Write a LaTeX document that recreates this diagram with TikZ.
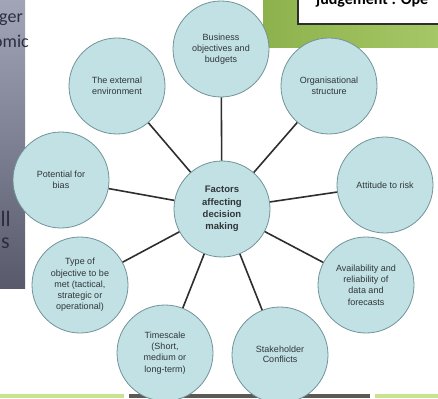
\documentclass[tikz,border=0pt]{standalone}
\usepackage{fontspec}
\setmainfont{Liberation Sans}
\newfontfamily\slidefont{Carlito}
\definecolor{bubblefill}{HTML}{C2E1E4}
\definecolor{bubbleedge}{HTML}{6F9398}
\definecolor{bubbletext}{HTML}{2F3537}
\definecolor{linkcol}{HTML}{2E2E2E}
\definecolor{paneltop}{HTML}{A2A5B8}
\definecolor{panelbot}{HTML}{585A6C}
\definecolor{panelink}{HTML}{2C2D40}
\definecolor{leafgreen}{HTML}{8DB24C}
\definecolor{leaflight}{HTML}{A6C766}
\definecolor{palegreen}{HTML}{C9E48F}
\definecolor{darkbar}{HTML}{5D5953}
\begin{document}
\begin{tikzpicture}[x=1pt,y=-1pt,
  bubble/.style={circle, draw=bubbleedge, line width=0.8pt, fill=bubblefill,
    minimum size=96pt, inner sep=0pt, align=center, text=bubbletext,
    font=\fontsize{9}{11.3}\selectfont},
  hub/.style={bubble, font=\fontsize{9.5}{12.3}\selectfont\bfseries},
  link/.style={draw=linkcol, line width=1.6pt},
  frag/.style={text=panelink, inner sep=0pt, font=\slidefont\fontsize{18}{20}\selectfont},
  fragbig/.style={frag, font=\slidefont\fontsize{22}{24}\selectfont}]
\useasboundingbox (0,0) rectangle (438,398);
\clip (0,0) rectangle (438,398);
% left slide panel
\shade[top color=paneltop, bottom color=panelbot] (0,0) rectangle (25,288);
\node[frag, anchor=base east] (fg1) at (23,23) {ger};
\node[frag, anchor=base east] (fg2) at (29,48) {omic};
\node[fragbig, anchor=base east] (fg3) at (11,226) {ll};
\node[fragbig, anchor=base east] (fg4) at (10,248) {s};
% top right green band with text box
\shade[left color=leafgreen, right color=leaflight] (263,0) rectangle (438,48);
\draw[draw=linkcol, line width=1.5pt, fill=white] (298,-5) rectangle (445,24);
\node[anchor=base west, inner sep=0pt, text=black, font=\slidefont\bfseries\fontsize{16}{18}\selectfont] (judge) at (316,5) {judgement : Ope};
% bottom strip
\fill[palegreen] (0,394) rectangle (124,398);
\fill[darkbar] (129,394) rectangle (370,398);
\fill[palegreen] (375,394) rectangle (438,398);
% bubbles
\node[hub] (C) at (222,209) {Factors\\affecting\\decision\\making};
\node[bubble] (bus) at (221,49) {Business\\objectives and\\budgets};
\node[bubble] (org) at (329,86) {Organisational\\structure};
\node[bubble] (att) at (385,185) {Attitude to risk};
\node[bubble] (avail) at (366,285) {Availability and\\reliability of\\data and\\forecasts};
\node[bubble] (stake) at (280,355) {\raisebox{-10pt}{\begin{tabular}{@{}c@{}}Stakeholder\\[-1.2pt]Conflicts\end{tabular}}};
\node[bubble] (time) at (165,353) {Timescale\\(Short,\\medium or\\long-term)};
\node[bubble] (type) at (80,285) {Type of\\objective to be\\met (tactical,\\strategic or\\operational)};
\node[bubble] (bias) at (61,180) {Potential for\\bias};
\node[bubble] (ext) at (117,86) {The external\\environment};
% connectors
\foreach \t in {bus,org,att,avail,stake,time,type,bias,ext}
  \draw[link] (C) -- (\t);
\end{tikzpicture}
\end{document}
